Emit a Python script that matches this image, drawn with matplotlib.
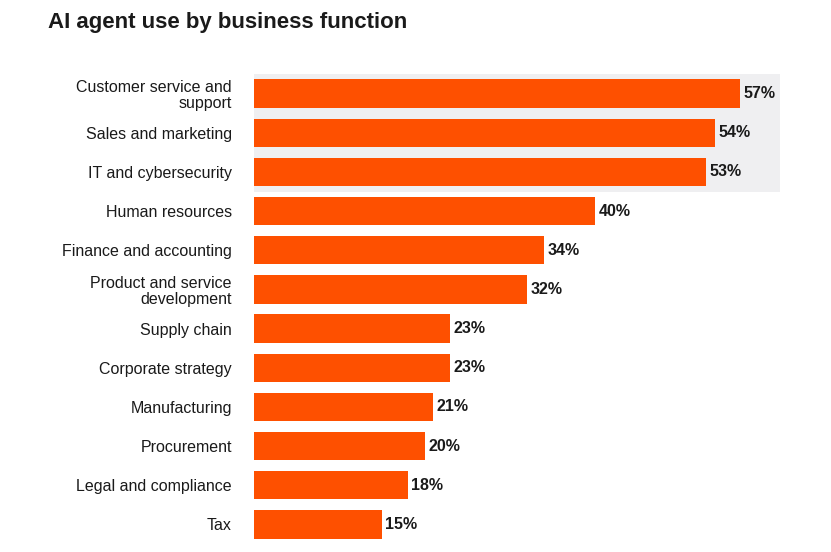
import matplotlib
matplotlib.use("Agg")
import matplotlib.pyplot as plt

categories = ["Customer service and\nsupport", "Sales and marketing", "IT and cybersecurity",
              "Human resources", "Finance and accounting", "Product and service\ndevelopment",
              "Supply chain", "Corporate strategy", "Manufacturing", "Procurement",
              "Legal and compliance", "Tax"]
values = [57, 54, 53, 40, 34, 32, 23, 23, 21, 20, 18, 15]
value_labels = [f"{v}%" for v in values]

plt.rcParams["font.family"] = "Liberation Sans"
W, H = 831, 552
fig = plt.figure(figsize=(W/100, H/100), dpi=100)
ax = fig.add_axes([254/W, 1-544/H, (780-254)/W, 470/H])
ax.set_xlim(0, (780-254)/8.53)
ax.set_ylim(11.5, -0.5)
ax.axhspan(-0.5, 2.5, color="#efeff1", zorder=0, lw=0)
ys = list(range(len(values)))
ax.barh(ys, values, height=0.72, color="#fe5000", zorder=2)
for y, v, t in zip(ys, values, value_labels):
    ax.text(v + 0.4, y, t, va="center", ha="left", fontsize=11.5, fontweight="bold", color="#1a1a1a")
ax.set_yticks(ys)
ax.set_yticklabels(categories, fontsize=11.5, color="#1a1a1a", linespacing=1.1)
ax.tick_params(axis="y", length=0, pad=16)
ax.set_xticks([])
for s in ax.spines.values():
    s.set_visible(False)
fig.text(48/W, 1-12/H, "AI agent use by business function", fontsize=16, fontweight="bold",
         va="top", ha="left", color="#1a1a1a")
fig.savefig("out.png", dpi=100)
